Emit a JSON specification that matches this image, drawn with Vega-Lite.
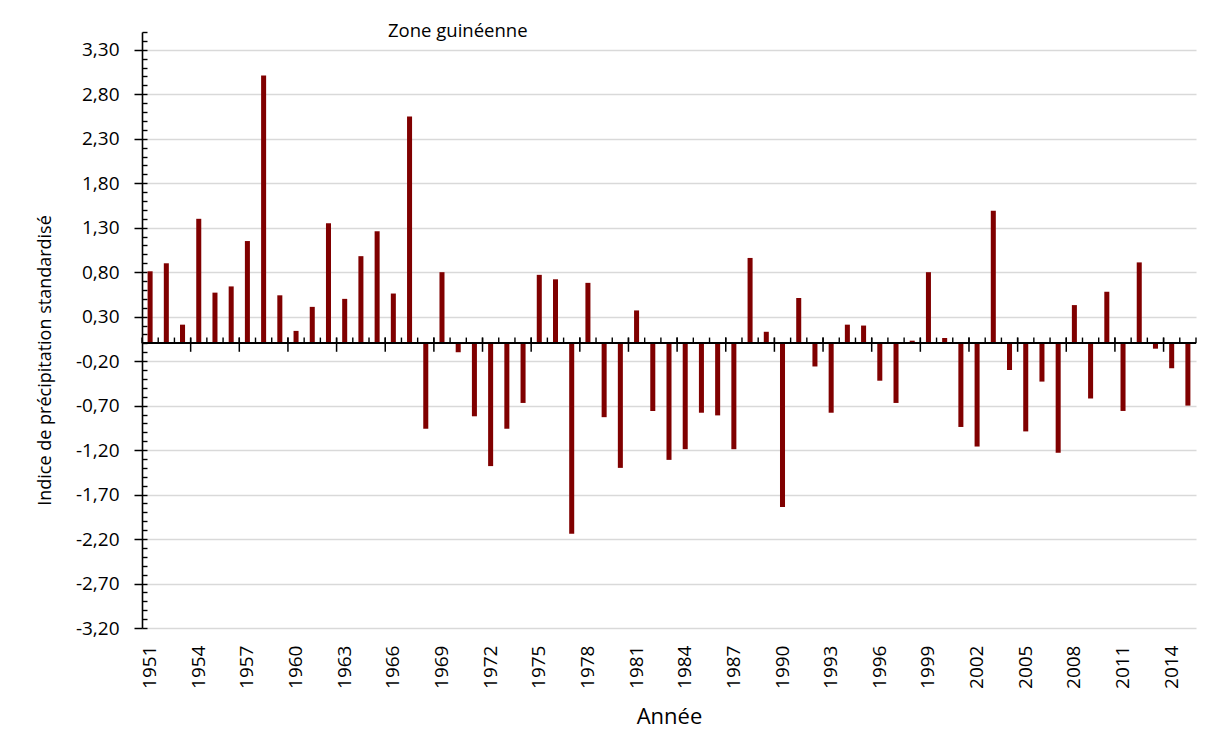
{
  "$schema": "https://vega.github.io/schema/vega-lite/v6.json",
  "autosize": {"type": "none"},
  "padding": {"left": 142, "top": 32, "right": 9, "bottom": 117},
  "width": 1054,
  "height": 596,
  "background": "white",
  "title": {
    "text": "Zone guinéenne",
    "anchor": "start",
    "frame": "group",
    "dx": 246,
    "offset": -9,
    "font": "Open Sans",
    "fontSize": 18.5,
    "fontWeight": "normal",
    "color": "#000000"
  },
  "data": {
    "values": [
      {"year": 1951, "spi": 0.81}, {"year": 1952, "spi": 0.90}, {"year": 1953, "spi": 0.21},
      {"year": 1954, "spi": 1.40}, {"year": 1955, "spi": 0.57}, {"year": 1956, "spi": 0.64},
      {"year": 1957, "spi": 1.15}, {"year": 1958, "spi": 3.01}, {"year": 1959, "spi": 0.54},
      {"year": 1960, "spi": 0.14}, {"year": 1961, "spi": 0.41}, {"year": 1962, "spi": 1.35},
      {"year": 1963, "spi": 0.50}, {"year": 1964, "spi": 0.98}, {"year": 1965, "spi": 1.26},
      {"year": 1966, "spi": 0.56}, {"year": 1967, "spi": 2.55}, {"year": 1968, "spi": -0.96},
      {"year": 1969, "spi": 0.80}, {"year": 1970, "spi": -0.10}, {"year": 1971, "spi": -0.82},
      {"year": 1972, "spi": -1.38}, {"year": 1973, "spi": -0.96}, {"year": 1974, "spi": -0.67},
      {"year": 1975, "spi": 0.77}, {"year": 1976, "spi": 0.72}, {"year": 1977, "spi": -2.14},
      {"year": 1978, "spi": 0.68}, {"year": 1979, "spi": -0.83}, {"year": 1980, "spi": -1.40},
      {"year": 1981, "spi": 0.37}, {"year": 1982, "spi": -0.76}, {"year": 1983, "spi": -1.31},
      {"year": 1984, "spi": -1.19}, {"year": 1985, "spi": -0.78}, {"year": 1986, "spi": -0.81},
      {"year": 1987, "spi": -1.19}, {"year": 1988, "spi": 0.96}, {"year": 1989, "spi": 0.13},
      {"year": 1990, "spi": -1.84}, {"year": 1991, "spi": 0.51}, {"year": 1992, "spi": -0.26},
      {"year": 1993, "spi": -0.78}, {"year": 1994, "spi": 0.21}, {"year": 1995, "spi": 0.20},
      {"year": 1996, "spi": -0.42}, {"year": 1997, "spi": -0.67}, {"year": 1998, "spi": 0.03},
      {"year": 1999, "spi": 0.80}, {"year": 2000, "spi": 0.06}, {"year": 2001, "spi": -0.94},
      {"year": 2002, "spi": -1.16}, {"year": 2003, "spi": 1.49}, {"year": 2004, "spi": -0.30},
      {"year": 2005, "spi": -0.99}, {"year": 2006, "spi": -0.43}, {"year": 2007, "spi": -1.23},
      {"year": 2008, "spi": 0.43}, {"year": 2009, "spi": -0.62}, {"year": 2010, "spi": 0.58},
      {"year": 2011, "spi": -0.76}, {"year": 2012, "spi": 0.91}, {"year": 2013, "spi": -0.06},
      {"year": 2014, "spi": -0.28}, {"year": 2015, "spi": -0.70}
    ]
  },
  "resolve": {"axis": {"y": "independent"}},
  "layer": [
    {
      "mark": {"type": "bar", "color": "#800000", "width": {"band": 0.31}},
      "encoding": {
        "x": {
          "field": "year",
          "type": "ordinal",
          "scale": {"paddingInner": 0, "paddingOuter": 0},
          "axis": {
            "orient": "bottom",
            "labelExpr": "(datum.value - 1951) % 3 == 0 ? datum.label : ''",
            "labelAngle": -90,
            "labelAlign": "right",
            "labelBaseline": "middle",
            "labelPadding": 17,
            "labelFont": "Open Sans",
            "labelFontSize": 19,
            "labelColor": "#000000",
            "labelOverlap": false,
            "ticks": false,
            "domain": false,
            "grid": false,
            "title": "Année",
            "titleFont": "Open Sans",
            "titleFontSize": 22,
            "titleFontWeight": "normal",
            "titleColor": "#000000",
            "titlePadding": 18
          }
        },
        "y": {
          "field": "spi",
          "type": "quantitative",
          "scale": {"domain": [-3.2, 3.5], "nice": false},
          "axis": {
            "orient": "left",
            "values": [-3.2, -2.7, -2.2, -1.7, -1.2, -0.7, -0.2, 0.3, 0.8, 1.3, 1.8, 2.3, 2.8, 3.3],
            "labelExpr": "replace(replace(format(datum.value, '.2f'), '.', ','), '\u2212', '-')",
            "labelFont": "Open Sans",
            "labelFontSize": 19,
            "labelColor": "#000000",
            "labelPadding": 15,
            "tickSize": 8,
            "tickWidth": 1.5,
            "tickColor": "#000000",
            "domainColor": "#000000",
            "domainWidth": 1.6,
            "grid": true,
            "gridColor": "#d9d9d9",
            "gridWidth": 1.3,
            "title": "Indice de précipitation standardisé",
            "titleFont": "Open Sans",
            "titleFontSize": 18,
            "titleFontWeight": "normal",
            "titleColor": "#000000",
            "titleAngle": -90,
            "titleX": -97,
            "titleY": 328,
            "titleAlign": "center",
            "titleBaseline": "middle"
          }
        }
      }
    },
    {
      "mark": {"type": "rule", "color": "#000000", "strokeWidth": 1.4},
      "encoding": {
        "y": {
          "datum": 0,
          "type": "quantitative",
          "axis": {
            "orient": "left",
            "values": [-3.2, -3.1, -3.0, -2.9, -2.8, -2.7, -2.6, -2.5, -2.4, -2.3, -2.2, -2.1, -2.0, -1.9, -1.8, -1.7, -1.6, -1.5, -1.4, -1.3, -1.2, -1.1, -1.0, -0.9, -0.8, -0.7, -0.6, -0.5, -0.4, -0.3, -0.2, -0.1, 0.0, 0.1, 0.2, 0.3, 0.4, 0.5, 0.6, 0.7, 0.8, 0.9, 1.0, 1.1, 1.2, 1.3, 1.4, 1.5, 1.6, 1.7, 1.8, 1.9, 2.0, 2.1, 2.2, 2.3, 2.4, 2.5, 2.6, 2.7, 2.8, 2.9, 3.0, 3.1, 3.2, 3.3, 3.4, 3.5],
            "labels": false,
            "grid": false,
            "domain": false,
            "tickSize": -5,
            "tickWidth": 1.4,
            "tickColor": "#000000",
            "title": null
          }
        }
      }
    },
    {
      "mark": {"type": "rule", "color": "#000000", "strokeWidth": 1.4},
      "encoding": {
        "x": {"field": "year", "type": "ordinal", "bandPosition": 0},
        "y": {"datum": 0, "type": "quantitative", "axis": null},
        "y2": {"datum": 0.065}
      }
    },
    {
      "transform": [{"filter": "datum.year == 2015"}],
      "mark": {"type": "rule", "color": "#000000", "strokeWidth": 1.4},
      "encoding": {
        "x": {"field": "year", "type": "ordinal", "bandPosition": 1},
        "y": {"datum": 0, "type": "quantitative", "axis": null},
        "y2": {"datum": 0.065}
      }
    },
    {
      "transform": [{"filter": "datum.year > 1951 && (datum.year - 1951) % 3 == 0"}],
      "mark": {"type": "rule", "color": "#000000", "strokeWidth": 1.5},
      "encoding": {
        "x": {"field": "year", "type": "ordinal", "bandPosition": 0},
        "y": {"datum": -0.095, "type": "quantitative", "axis": null},
        "y2": {"datum": 0.065}
      }
    }
  ],
  "config": {
    "view": {"stroke": null},
    "font": "Open Sans"
  }
}
